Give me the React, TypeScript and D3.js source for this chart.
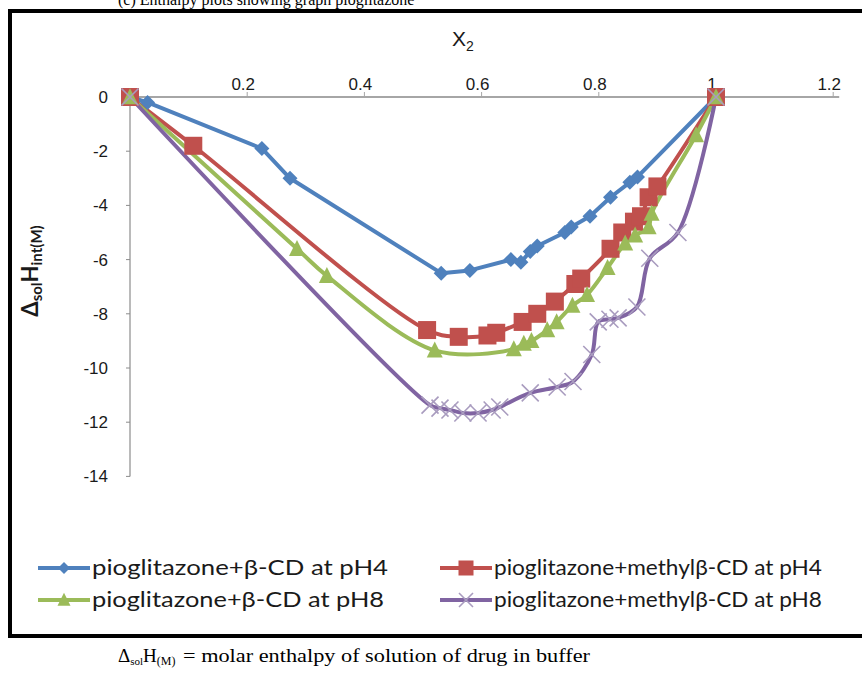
import React from "react";
import * as d3 from "d3";

// x2 (mole fraction) and ΔsolH values
const bluePH4X = [0, 0.03, 0.225, 0.273, 0.531, 0.58, 0.65, 0.667, 0.683, 0.695, 0.742, 0.753, 0.785, 0.82, 0.853, 0.866, 1];
const bluePH4Y = [0, -0.2, -1.9, -3.0, -6.5, -6.4, -6.0, -6.1, -5.7, -5.5, -5.0, -4.8, -4.4, -3.7, -3.15, -2.95, 0];

const methylPH4X = [0, 0.108, 0.507, 0.561, 0.61, 0.625, 0.67, 0.695, 0.725, 0.76, 0.77, 0.82, 0.84, 0.86, 0.872, 0.885, 0.9, 1];
const methylPH4Y = [0, -1.8, -8.6, -8.85, -8.8, -8.7, -8.3, -8.0, -7.55, -6.9, -6.7, -5.6, -5.0, -4.6, -4.4, -3.7, -3.3, 0];

const betaPH8X = [0, 0.285, 0.336, 0.52, 0.655, 0.672, 0.685, 0.712, 0.728, 0.755, 0.78, 0.815, 0.845, 0.862, 0.885, 0.89, 0.966, 1];
const betaPH8Y = [0, -5.6, -6.6, -9.35, -9.3, -9.1, -9.0, -8.6, -8.3, -7.7, -7.3, -6.3, -5.4, -5.1, -4.8, -4.3, -1.4, 0];

const methylPH8X = [0, 0.512, 0.529, 0.546, 0.568, 0.594, 0.618, 0.631, 0.683, 0.729, 0.756, 0.788, 0.799, 0.819, 0.833, 0.865, 0.887, 0.935, 1];
const methylPH8Y = [0, -11.37, -11.48, -11.55, -11.66, -11.66, -11.55, -11.44, -10.92, -10.7, -10.5, -9.5, -8.3, -8.2, -8.15, -7.75, -5.95, -5.0, 0];

const xTicks = [0.2, 0.4, 0.6, 0.8, 1, 1.2];
const yTicks = [0, -2, -4, -6, -8, -10, -12, -14];

const seriesNames = [
  "pioglitazone+β-CD at pH4",
  "pioglitazone+methylβ-CD at pH4",
  "pioglitazone+β-CD at pH8",
  "pioglitazone+methylβ-CD at pH8",
];

type Pt = [number, number];
const zip = (xs: number[], ys: number[]): Pt[] => xs.map((x, i) => [x, ys[i]]);

const series = [
  { name: seriesNames[0], data: zip(bluePH4X, bluePH4Y), color: "#4F81BD", marker: "diamond", smooth: false, textW: 296 },
  { name: seriesNames[1], data: zip(methylPH4X, methylPH4Y), color: "#C0504D", marker: "square", smooth: true, textW: 328 },
  { name: seriesNames[2], data: zip(betaPH8X, betaPH8Y), color: "#9BBB59", marker: "triangle", smooth: true, textW: 292 },
  { name: seriesNames[3], data: zip(methylPH8X, methylPH8Y), color: "#8064A2", marker: "x", smooth: true, textW: 328 },
];

const Marker = ({ kind, color, cx, cy, s }: { kind: string; color: string; cx: number; cy: number; s: number }) => {
  if (kind === "diamond") {
    const r = s / 2;
    return <path d={`M${cx},${cy - r}L${cx + r},${cy}L${cx},${cy + r}L${cx - r},${cy}Z`} fill={color} />;
  }
  if (kind === "square") {
    return <rect x={cx - s / 2} y={cy - s / 2} width={s} height={s} fill={color} />;
  }
  if (kind === "triangle") {
    const h = s;
    return <path d={`M${cx},${cy - h * 0.55}L${cx + s / 2},${cy + h * 0.45}L${cx - s / 2},${cy + h * 0.45}Z`} fill={color} />;
  }
  const r = s / 2;
  return (
    <path
      d={`M${cx - r},${cy - r}L${cx + r},${cy + r}M${cx - r},${cy + r}L${cx + r},${cy - r}`}
      stroke="#a99cbf"
      strokeWidth={1.6}
      fill="none"
    />
  );
};

const markerSize: Record<string, number> = { diamond: 15, square: 18, triangle: 16, x: 17 };

export default function App() {
  const W = 862;
  const H = 675;
  const x = d3.scaleLinear().domain([0, 1.2]).range([130, 833.2]);
  const y = d3.scaleLinear().domain([-14, 0]).range([476.4, 97]);

  const straight = d3.line<Pt>().x((d) => x(d[0])).y((d) => y(d[1]));
  const smooth = d3
    .line<Pt>()
    .x((d) => x(d[0]))
    .y((d) => y(d[1]))
    .curve(d3.curveCatmullRom.alpha(0.5));

  const tickFont = "'Liberation Sans', Arial, sans-serif";
  const legendFont = "Lato, 'Open Sans', sans-serif";
  const serif = "'Liberation Serif', 'Times New Roman', serif";

  return (
    <svg width={W} height={H} style={{ position: "absolute", left: 0, top: 0, background: "#fff" }}>
      {/* heading above the frame, mostly cut off as in the source */}
      <text x={118} y={5} fontFamily={serif} fontSize={16} fill="#000">
        (c)       Enthalpy plots showing graph pioglitazone
      </text>

      <rect x={10} y={11} width={870} height={625} fill="#fff" stroke="#000" strokeWidth={4} />

      {/* x axis at y = 0 */}
      <line x1={x(0)} x2={x(1.2) + 6} y1={y(0)} y2={y(0)} stroke="#a6a6a6" strokeWidth={2} />
      {xTicks.map((t) => (
        <g key={t}>
          <line x1={x(t)} x2={x(t)} y1={y(0)} y2={y(0) - 5} stroke="#a6a6a6" strokeWidth={1} />
          <text x={x(t) - 4} y={90} textAnchor="middle" fontFamily={tickFont} fontSize={17} fill="#1a1a1a">
            {t}
          </text>
        </g>
      ))}

      {/* y axis */}
      <line x1={x(0)} x2={x(0)} y1={y(0)} y2={y(-14)} stroke="#8c8c8c" strokeWidth={1.2} />
      {yTicks.map((t) => (
        <g key={t}>
          <line x1={x(0) - 4} x2={x(0)} y1={y(t)} y2={y(t)} stroke="#8c8c8c" strokeWidth={1} />
          <text x={108} y={y(t) + 6} textAnchor="end" fontFamily={tickFont} fontSize={17} fill="#1a1a1a">
            {t}
          </text>
        </g>
      ))}

      {/* axis titles */}
      <text x={452} y={46} fontFamily={tickFont} fontSize={21} fill="#1a1a1a">
        X<tspan fontSize={14} dy={5}>2</tspan>
      </text>
      <text
        transform={`translate(38,271) rotate(-90)`}
        textAnchor="middle"
        fontFamily={legendFont}
        fontWeight="bold"
        fontSize={22}
        fill="#1a1a1a"
      >
        Δ<tspan fontSize={15} dy={4}>sol</tspan>
        <tspan fontSize={22} dy={-4}>H</tspan>
        <tspan fontSize={15} dy={4}>int(M)</tspan>
      </text>

      {/* series lines then markers */}
      {series.map((s) => (
        <path
          key={s.name}
          d={(s.smooth ? smooth : straight)(s.data) || ""}
          fill="none"
          stroke={s.color}
          strokeWidth={4}
          strokeLinejoin="round"
        />
      ))}
      {series.map((s) =>
        s.data.map((d, i) => (
          <Marker key={s.name + i} kind={s.marker} color={s.color} cx={x(d[0])} cy={y(d[1])} s={markerSize[s.marker]} />
        ))
      )}

      {/* legend */}
      {series.map((s, i) => {
        const lx = i % 2 === 0 ? 38 : 440;
        const ly = i < 2 ? 568 : 600;
        return (
          <g key={s.name}>
            <line x1={lx} x2={lx + 52} y1={ly} y2={ly} stroke={s.color} strokeWidth={4} />
            <Marker kind={s.marker} color={s.color} cx={lx + 26} cy={ly} s={markerSize[s.marker] - 3} />
            <text
              x={lx + 54}
              y={ly + 7}
              fontFamily={legendFont}
              fontSize={22}
              fill="#1a1a1a"
              textLength={s.textW}
              lengthAdjust="spacingAndGlyphs"
            >
              {s.name}
            </text>
          </g>
        );
      })}

      {/* caption below the frame */}
      <text x={118} y={662} fontFamily={serif} fontSize={19} fill="#000">
        Δ<tspan fontSize={11} dy={3}>sol</tspan>
        <tspan fontSize={19} dy={-3}>H</tspan>
        <tspan fontSize={12} dy={3}>(M)</tspan>
        <tspan x={183} fontSize={19} dy={-3} textLength={407} lengthAdjust="spacingAndGlyphs">
          = molar enthalpy of solution of drug in buffer
        </tspan>
      </text>
    </svg>
  );
}
